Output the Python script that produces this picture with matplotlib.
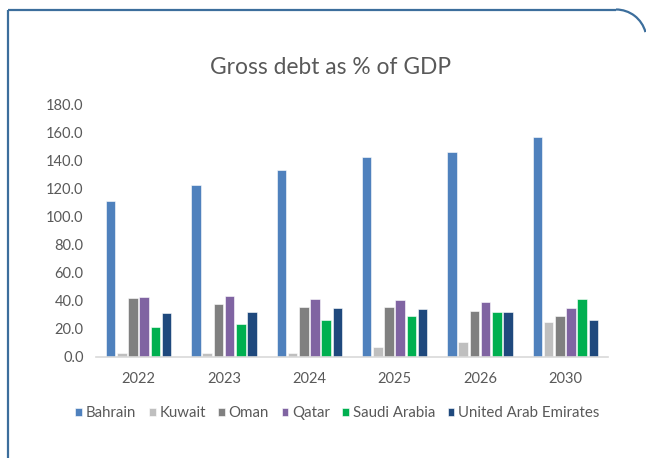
import matplotlib.pyplot as plt
import numpy as np
from matplotlib.patches import Arc

plt.rcParams['font.family'] = ['Lato', 'DejaVu Sans']

years = ['2022', '2023', '2024', '2025', '2026', '2030']
countries = ['Bahrain', 'Kuwait', 'Oman', 'Qatar', 'Saudi Arabia', 'United Arab Emirates']

bahrain = [111.6, 122.9, 133.6, 142.6, 146.4, 156.9]
kuwait = [3.0, 3.0, 2.9, 7.4, 10.7, 24.8]
oman = [42.0, 38.0, 35.5, 35.5, 32.9, 29.0]
qatar = [43.0, 43.6, 41.2, 40.5, 39.3, 34.8]
saudi = [21.4, 23.3, 26.4, 29.0, 32.1, 41.2]
uae = [31.7, 32.4, 34.8, 34.0, 32.1, 26.4]

colors = ['#4F81BD', '#BFBFBF', '#808080', '#8064A2', '#00B050', '#1F497D']
text_col = '#595959'

fig = plt.figure(figsize=(6.46, 4.58), dpi=100)

# frame with rounded top-right corner, drawn in pixel coords
bg = fig.add_axes([0, 0, 1, 1])
bg.set_xlim(0, 646)
bg.set_ylim(458, 0)
bg.axis('off')
fc = '#3C6E9C'
bg.plot([8, 8], [9.5, 458], color=fc, lw=1.6, solid_capstyle='butt')
bg.plot([8, 616], [9.5, 9.5], color=fc, lw=1.6, solid_capstyle='butt')
bg.add_patch(Arc((616, 40), 61, 61, theta1=270, theta2=345, color=fc, lw=1.6))

ax = fig.add_axes([96 / 646, 101 / 458, 512 / 646, 252 / 458])
series = [bahrain, kuwait, oman, qatar, saudi, uae]
x = np.arange(len(years))
pitch = 0.131
width = 0.112
for i, (vals, name, c) in enumerate(zip(series, countries, colors)):
    ax.bar(x + (i - 2.5) * pitch, vals, width, color=c, label=name,
           edgecolor='white', linewidth=0.4)

ax.set_xlim(-0.5, len(years) - 0.5)
ax.set_ylim(0, 180)
ax.set_yticks(np.arange(0, 181, 20))
ax.set_yticklabels(['%.1f' % v for v in np.arange(0, 181, 20)])
ax.set_xticks(x)
ax.set_xticklabels(years)
ax.tick_params(length=0, labelsize=10.5, colors=text_col)
ax.tick_params(axis='y', pad=9)
ax.tick_params(axis='x', pad=11)
for s in ['top', 'right', 'left']:
    ax.spines[s].set_visible(False)
ax.spines['bottom'].set_color('#D9D9D9')
ax.spines['bottom'].set_linewidth(1.2)

fig.text(330.5 / 646, 1 - 68 / 458, 'Gross debt as % of GDP', ha='center', va='center',
         fontsize=16.4, color=text_col)

ax.legend(loc='center', bbox_to_anchor=(337.5 / 646, 1 - 413 / 458),
          bbox_transform=fig.transFigure, ncol=6, frameon=False,
          fontsize=10.8, handlelength=0.45, handleheight=0.45, handletextpad=0.25,
          columnspacing=0.83, labelcolor=text_col)

fig.savefig('out.png', dpi=100)
